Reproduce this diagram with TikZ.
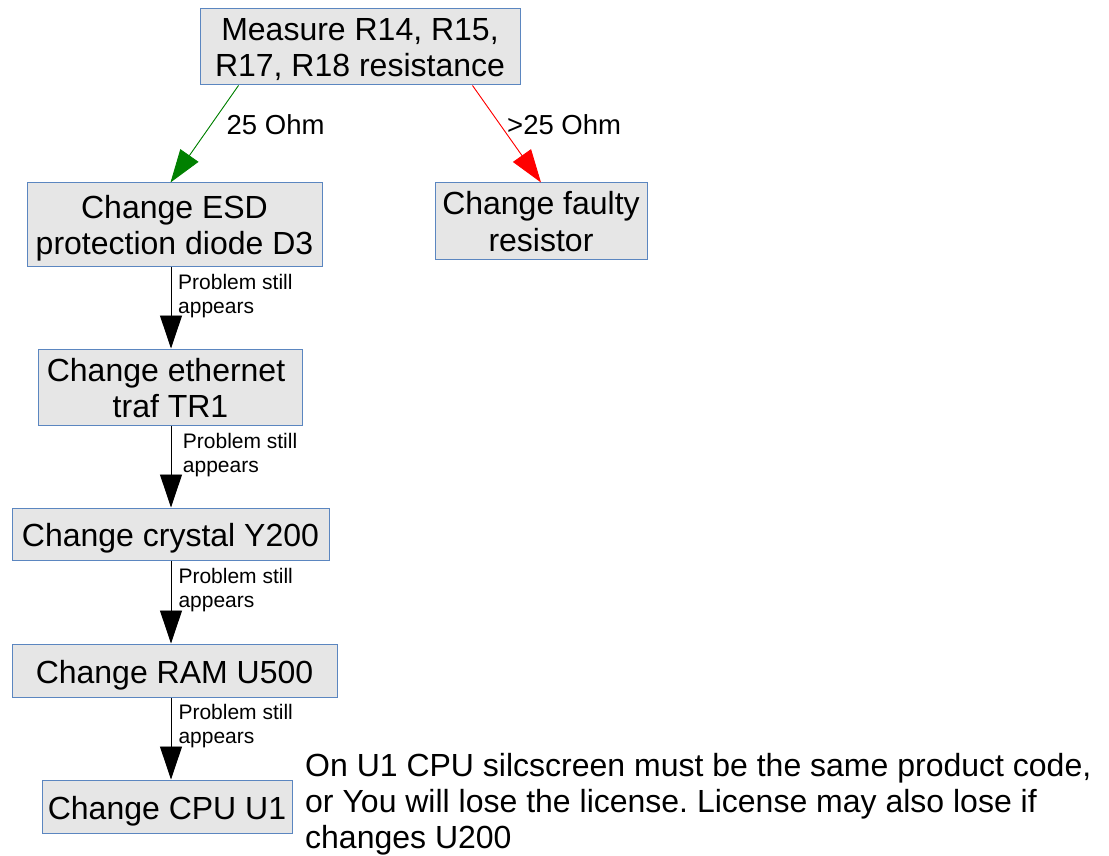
\documentclass[tikz,border=0pt]{standalone}
\usepackage{fontspec}
\setmainfont{Liberation Sans}
\usetikzlibrary{arrows.meta,calc}
\frenchspacing
\definecolor{boxfill}{HTML}{E6E6E6}
\definecolor{boxline}{HTML}{5B86C0}
\definecolor{okgreen}{HTML}{008000}
\definecolor{badred}{HTML}{FF0000}
\tikzset{
  stepbox/.style={draw=boxline, fill=boxfill, line width=1pt, inner sep=0pt,
    align=center, text depth=0pt, font=\fontsize{32}{36}\selectfont},
  twoline/.style={text height=60pt},
  oneline/.style={text height=25pt},
  conn/.style={line width=0.9pt, -{Triangle[width=22pt,length=33pt]}},
  smalllab/.style={inner sep=0pt, align=left, anchor=north west, text depth=0pt,
    text height=39.5pt, font=\fontsize{21}{24}\selectfont},
  edgelab/.style={inner sep=0pt, anchor=base west, font=\fontsize{27.5}{32}\selectfont}
}
\begin{document}
\begin{tikzpicture}[x=1pt,y=-1pt]
\useasboundingbox (0,0) rectangle (1109,856);
\coordinate (ax) at (171,0);
% boxes
\node[stepbox,twoline,minimum width=320pt,minimum height=76pt] (top) at (360,47) {Measure R14, R15,\\R17, R18 resistance};
\node[stepbox,twoline,minimum width=295pt,minimum height=83pt] (esd) at (174.5,224.5) {Change ESD\\protection diode D3};
\node[stepbox,twoline,minimum width=212pt,minimum height=76pt] (faulty) at (541,221) {Change faulty\\resistor};
\node[stepbox,twoline,minimum width=264pt,minimum height=76pt] (eth) at (170.5,387) {Change ethernet\hphantom{ }\\traf TR1};
\node[stepbox,oneline,minimum width=317pt,minimum height=52pt] (crystal) at (170.5,534) {Change crystal Y200};
\node[stepbox,oneline,minimum width=325pt,minimum height=53pt] (ram) at (174.5,670.5) {Change RAM U500};
\node[stepbox,oneline,minimum width=250pt,minimum height=53pt] (cpu) at (167,806.5) {Change CPU U1};
% connectors
\draw[conn,draw=okgreen,fill=okgreen] ($(top.south west)+(39,0)$) -- ($(esd.north west)+(144,0)$);
\draw[conn,draw=badred,fill=badred] ($(top.south west)+(273,0)$) -- (faulty.north);
\draw[conn] (esd.south -| ax) -- (eth.north -| ax);
\draw[conn] (eth.south -| ax) -- (crystal.north -| ax);
\draw[conn] (crystal.south -| ax) -- (ram.north -| ax);
\draw[conn] (ram.south -| ax) -- (cpu.north -| ax);
% labels
\node[edgelab] (l25) at (226.5,135) {25 Ohm};
\node[edgelab] (lgt25) at (507,135) {>25 Ohm};
\node[smalllab] (p1) at (178,273.5) {Problem still\\appears};
\node[smalllab] (p2) at (182.7,432.5) {Problem still\\appears};
\node[smalllab] (p3) at (178.3,567.5) {Problem still\\appears};
\node[smalllab] (p4) at (178.3,703.5) {Problem still\\appears};
% note
\node[inner sep=0pt, align=left, anchor=north west, text depth=0pt, text height=95.5pt,
  font=\fontsize{32}{36}\selectfont] (note) at (305,752.5)
  {On U1 CPU silcscreen must be the same product code,\\or You will lose the license. License may also lose if\\changes U200};
\end{tikzpicture}
\end{document}
